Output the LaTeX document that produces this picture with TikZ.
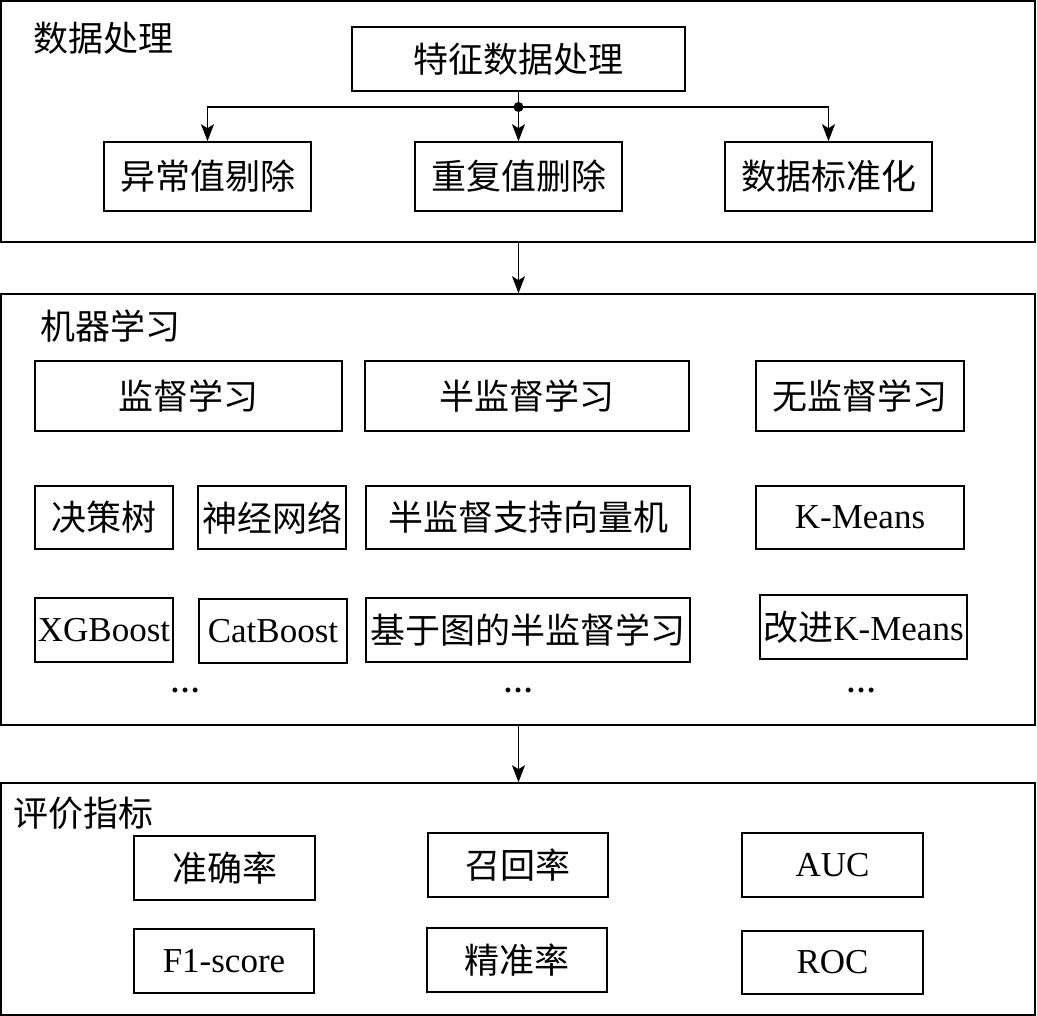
\documentclass[tikz,border=0pt]{standalone}
\usepackage{fontspec}
\setmainfont{Liberation Serif}
\newfontfamily\cjk{Noto Sans CJK SC}
\usetikzlibrary{arrows.meta}
\begin{document}
\begin{tikzpicture}[x=1pt,y=-1pt,
  frame/.style={draw, line width=1.6pt, inner sep=0pt},
  box/.style={draw, line width=1.6pt, inner sep=0pt, font=\fontsize{35}{40}\selectfont},
  ttl/.style={inner sep=0pt, anchor=west, font=\fontsize{35}{40}\selectfont\cjk},
  dots/.style={inner sep=0pt, font=\fontsize{30}{32}\selectfont\bfseries},
  arr/.style={line width=1.6pt, -{Stealth[length=17pt,width=13pt,inset=4pt]}},
  ln/.style={line width=1.6pt}]
\useasboundingbox (0,0) rectangle (1037,1016);

% sections
\node[frame, minimum width=1034pt, minimum height=241pt] (s1) at (518,121.5) {};
\node[frame, minimum width=1034pt, minimum height=431pt] (s2) at (518,509.5) {};
\node[frame, minimum width=1034pt, minimum height=232pt] (s3) at (518,899) {};

\node[ttl] (t1) at (33,38) {数据处理};
\node[ttl] (t2) at (40,326) {机器学习};
\node[ttl] (t3) at (13,813) {评价指标};

% data processing
\node[box, minimum width=333pt, minimum height=64pt] (feat) at (518.5,59) {\cjk 特征数据处理};
\node[box, minimum width=207pt, minimum height=69pt] (b1) at (207.5,176.5) {\cjk 异常值剔除};
\node[box, minimum width=207pt, minimum height=69pt] (b2) at (518.5,176.5) {\cjk 重复值删除};
\node[box, minimum width=207pt, minimum height=69pt] (b3) at (828.5,176.5) {\cjk 数据标准化};
\coordinate (j) at (518.5,107);
\draw[ln] (feat.south) -- (j);
\fill (j) circle (5pt);
\draw[arr] (j) -| (b1.north);
\draw[arr] (j) -- (b2.north);
\draw[arr] (j) -| (b3.north);

% machine learning
\node[box, minimum width=307pt, minimum height=70pt] (sup) at (188.5,396) {\cjk 监督学习};
\node[box, minimum width=324pt, minimum height=70pt] (semi) at (527,396) {\cjk 半监督学习};
\node[box, minimum width=208pt, minimum height=70pt] (unsup) at (860,396) {\cjk 无监督学习};

\node[box, minimum width=138pt, minimum height=63pt] (dt) at (104,517.5) {\cjk 决策树};
\node[box, minimum width=148pt, minimum height=63pt] (nn) at (272,517.5) {\cjk 神经网络};
\node[box, minimum width=324pt, minimum height=63pt] (s3vm) at (528,517.5) {\cjk 半监督支持向量机};
\node[box, minimum width=208pt, minimum height=63pt] (km) at (860,517.5) {K-Means};

\node[box, minimum width=138pt, minimum height=64pt] (xgb) at (104,630) {XGBoost};
\node[box, minimum width=148pt, minimum height=64pt] (cat) at (273,631) {CatBoost};
\node[box, minimum width=324pt, minimum height=64pt] (gssl) at (528,630) {\cjk 基于图的半监督学习};
\node[box, minimum width=207pt, minimum height=64pt] (ikm) at (863.5,627) {{\cjk 改进}K-Means};

\node[dots] (d1) at (185,690) {…};
\node[dots] (d2) at (518,690) {…};
\node[dots] (d3) at (861,690) {…};

% evaluation
\node[box, minimum width=181pt, minimum height=64pt] (acc) at (224.5,868) {\cjk 准确率};
\node[box, minimum width=180pt, minimum height=64pt] (rec) at (518,865) {\cjk 召回率};
\node[box, minimum width=181pt, minimum height=64pt] (auc) at (832.5,865) {AUC};
\node[box, minimum width=180pt, minimum height=64pt] (f1) at (224,961) {F1-score};
\node[box, minimum width=180pt, minimum height=64pt] (prec) at (517,960) {\cjk 精准率};
\node[box, minimum width=181pt, minimum height=63pt] (roc) at (832.5,962.5) {ROC};

% section connectors
\draw[arr] (s1.south -| feat) -- (s2.north -| feat);
\draw[arr] (s2.south -| feat) -- (s3.north -| feat);
\end{tikzpicture}
\end{document}
